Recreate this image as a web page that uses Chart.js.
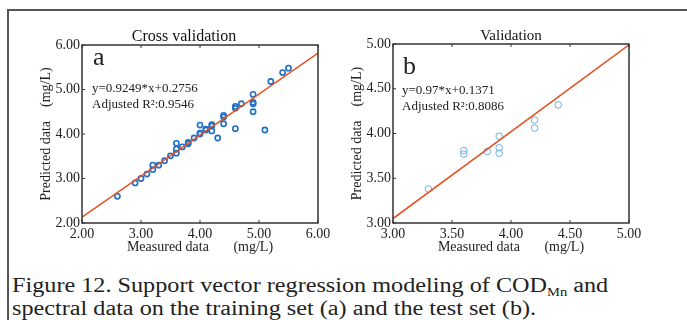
<!DOCTYPE html>
<html lang="en">
<head>
    <meta charset="UTF-8" />
    <script src="https://cdn.jsdelivr.net/npm/chart.js"></script>
    <title>Figure 12</title>
    <style>
        body {
            margin: 0;
            width: 687px;
            height: 320px;
            overflow: hidden;
            background: #fff;
            position: relative;
            font-family: 'Liberation Serif', 'Times New Roman', serif;
        }
        #frame {
            position: absolute;
            left: 7px;
            top: 9px;
            width: 700px;
            height: 330px;
            border-left: 2px solid #555;
            border-top: 2px solid #555;
        }
        canvas {
            position: absolute;
            top: 0;
        }
        #chartA { left: 0; }
        #chartB { left: 335px; }
        #caption {
            position: absolute;
            left: 12px;
            top: 274px;
            font-size: 20px;
            line-height: 23px;
            color: #222;
            white-space: nowrap;
            transform: scaleX(1.21);
            transform-origin: left top;
        }
        #caption sub {
            font-size: 12px;
            line-height: 0;
            vertical-align: -4px;
        }
    </style>
</head>
<body>
<div id="frame"></div>
<canvas id="chartA" width="335" height="260"></canvas>
<canvas id="chartB" width="352" height="260"></canvas>
<div id="caption">Figure 12. Support vector regression modeling of COD<sub>Mn</sub> and<br>spectral data on the training set (a) and the test set (b).</div>

<script>
    // training set (a) - cross validation
    const trainMeasured = [2.6, 2.9, 3.0, 3.1, 3.2, 3.2, 3.3, 3.4, 3.5, 3.6, 3.6, 3.6, 3.7, 3.8, 3.8, 3.9,
        4.0, 4.0, 4.0, 4.1, 4.1, 4.2, 4.2, 4.2, 4.3, 4.4, 4.4, 4.4, 4.6, 4.6, 4.6, 4.7,
        4.9, 4.9, 4.9, 4.9, 5.1, 5.2, 5.4, 5.5];
    const trainPredicted = [2.60, 2.90, 3.00, 3.10, 3.20, 3.30, 3.30, 3.40, 3.51, 3.79, 3.66, 3.57, 3.71, 3.81, 3.78, 3.91,
        4.00, 4.02, 4.20, 4.09, 4.11, 4.21, 4.07, 4.18, 3.91, 4.42, 4.38, 4.23, 4.62, 4.58, 4.12, 4.68,
        4.89, 4.71, 4.68, 4.50, 4.09, 5.18, 5.38, 5.48];
    const fitLineA_x = [2.0, 6.0];
    const fitLineA_y = [2.13, 5.82];
    const ticksA = [2, 3, 4, 5, 6];

    // test set (b) - validation
    const testMeasured = [3.3, 3.6, 3.6, 3.8, 3.9, 3.9, 3.9, 4.2, 4.2, 4.4];
    const testPredicted = [3.38, 3.81, 3.77, 3.80, 3.97, 3.84, 3.78, 4.15, 4.06, 4.32];
    const fitLineB_x = [3.0, 5.0];
    const fitLineB_y = [3.05, 4.99];
    const ticksB = [3, 3.5, 4, 4.5, 5];

    const serif = "'Liberation Serif', 'Times New Roman', serif";
    const ink = '#222';

    const toPoints = (xs, ys) => xs.map((v, i) => ({x: v, y: ys[i]}));

    // box around the plot, inner ticks and the text inside the plot
    const boxPlugin = {
        id: 'box',
        afterDraw(chart, args, opts) {
            const {ctx, chartArea: a, scales: {x, y}} = chart;
            ctx.save();
            ctx.strokeStyle = '#333';
            ctx.lineWidth = 1.5;
            ctx.strokeRect(a.left, a.top, a.width, a.height);
            ctx.beginPath();
            x.ticks.forEach(t => {
                const px = x.getPixelForValue(t.value);
                ctx.moveTo(px, a.bottom); ctx.lineTo(px, a.bottom - 3);
                ctx.moveTo(px, a.top); ctx.lineTo(px, a.top + 3);
            });
            y.ticks.forEach(t => {
                const py = y.getPixelForValue(t.value);
                ctx.moveTo(a.left, py); ctx.lineTo(a.left + 3, py);
            });
            ctx.lineWidth = 1;
            ctx.stroke();

            ctx.fillStyle = ink;
            ctx.textBaseline = 'alphabetic';
            ctx.font = '26px ' + serif;
            ctx.fillText(opts.letter, a.left + opts.letterX, a.top + opts.letterY);
            ctx.font = '13px ' + serif;
            opts.lines.forEach((s, i) => {
                ctx.fillText(s, a.left + opts.textX, a.top + opts.textY + i * 16);
            });
            ctx.restore();
        }
    };

    function makeChart(id, cfg) {
        const tickFont = {family: serif, size: 14};
        return new Chart(document.getElementById(id), {
            type: 'scatter',
            data: {
                datasets: [
                    {
                        data: toPoints(cfg.lineX, cfg.lineY),
                        showLine: true,
                        borderColor: '#e5501e',
                        borderWidth: 1.5,
                        pointRadius: 0,
                    },
                    {
                        data: toPoints(cfg.xs, cfg.ys),
                        pointStyle: 'circle',
                        pointRadius: cfg.radius,
                        pointBorderWidth: cfg.pointWidth,
                        borderColor: cfg.pointColor,
                        backgroundColor: 'rgba(0,0,0,0)',
                    }
                ]
            },
            options: {
                responsive: false,
                animation: false,
                devicePixelRatio: 1,
                layout: {padding: {left: 0, right: cfg.padRight, top: 0, bottom: 0}},
                plugins: {
                    legend: {display: false},
                    tooltip: {enabled: false},
                    title: {
                        display: true,
                        fullSize: false,
                        text: cfg.title,
                        color: '#111',
                        font: {family: serif, size: cfg.titleSize, weight: 'normal', lineHeight: 1},
                        padding: {top: 29, bottom: cfg.titleGap}
                    },
                    box: cfg.box
                },
                scales: {
                    x: {
                        type: 'linear',
                        min: cfg.ticks[0],
                        max: cfg.ticks[cfg.ticks.length - 1],
                        afterBuildTicks: s => { s.ticks = cfg.ticks.map(v => ({value: v})); },
                        afterFit: s => { s.height = 37; },
                        grid: {display: false, drawTicks: false},
                        border: {display: false},
                        ticks: {padding: 3, color: ink, font: tickFont, maxRotation: 0, autoSkip: false,
                            callback: v => v.toFixed(2)},
                        title: {display: true, text: 'Measured data       (mg/L)', color: ink,
                            font: {family: serif, size: 14}, padding: {top: 0, bottom: 4}}
                    },
                    y: {
                        type: 'linear',
                        min: cfg.yTicks[0],
                        max: cfg.yTicks[cfg.yTicks.length - 1],
                        afterBuildTicks: s => { s.ticks = cfg.yTicks.map(v => ({value: v})); },
                        afterFit: s => { s.width = cfg.yWidth; },
                        grid: {display: false, drawTicks: false},
                        border: {display: false},
                        ticks: {padding: 2, color: ink, font: tickFont, autoSkip: false,
                            callback: v => v.toFixed(2)},
                        title: {display: true, text: 'Predicted data    (mg/L)', color: ink,
                            font: {family: serif, size: 14}, padding: {top: cfg.yTitlePad, bottom: 0}}
                    }
                }
            },
            plugins: [boxPlugin]
        });
    }

    makeChart('chartA', {
        // trailing spaces pull the title a bit left, as in the figure
        title: 'Cross validation        ',
        titleSize: 16,
        xs: trainMeasured, ys: trainPredicted,
        lineX: fitLineA_x, lineY: fitLineA_y,
        ticks: ticksA, yTicks: [2, 3, 4, 5, 6],
        pointColor: '#1f6fc6', radius: 2.6, pointWidth: 1.6,
        padRight: 17, yWidth: 82, yTitlePad: 38, titleGap: 0,
        box: {letter: 'a', letterX: 11, letterY: 20,
            lines: ['y=0.9249*x+0.2756', 'Adjusted R\u00b2:0.9546'], textX: 10, textY: 47}
    });

    makeChart('chartB', {
        title: 'Validation',
        titleSize: 15,
        xs: testMeasured, ys: testPredicted,
        lineX: fitLineB_x, lineY: fitLineB_y,
        ticks: ticksB, yTicks: [3, 3.5, 4, 4.5, 5],
        pointColor: '#6aaee6', radius: 3.3, pointWidth: 1,
        padRight: 58, yWidth: 58, yTitlePad: 14, titleGap: 0,
        box: {letter: 'b', letterX: 10, letterY: 30,
            lines: ['y=0.97*x+0.1371', 'Adjusted R\u00b2:0.8086'], textX: 9, textY: 50}
    });
</script>
</body>
</html>
